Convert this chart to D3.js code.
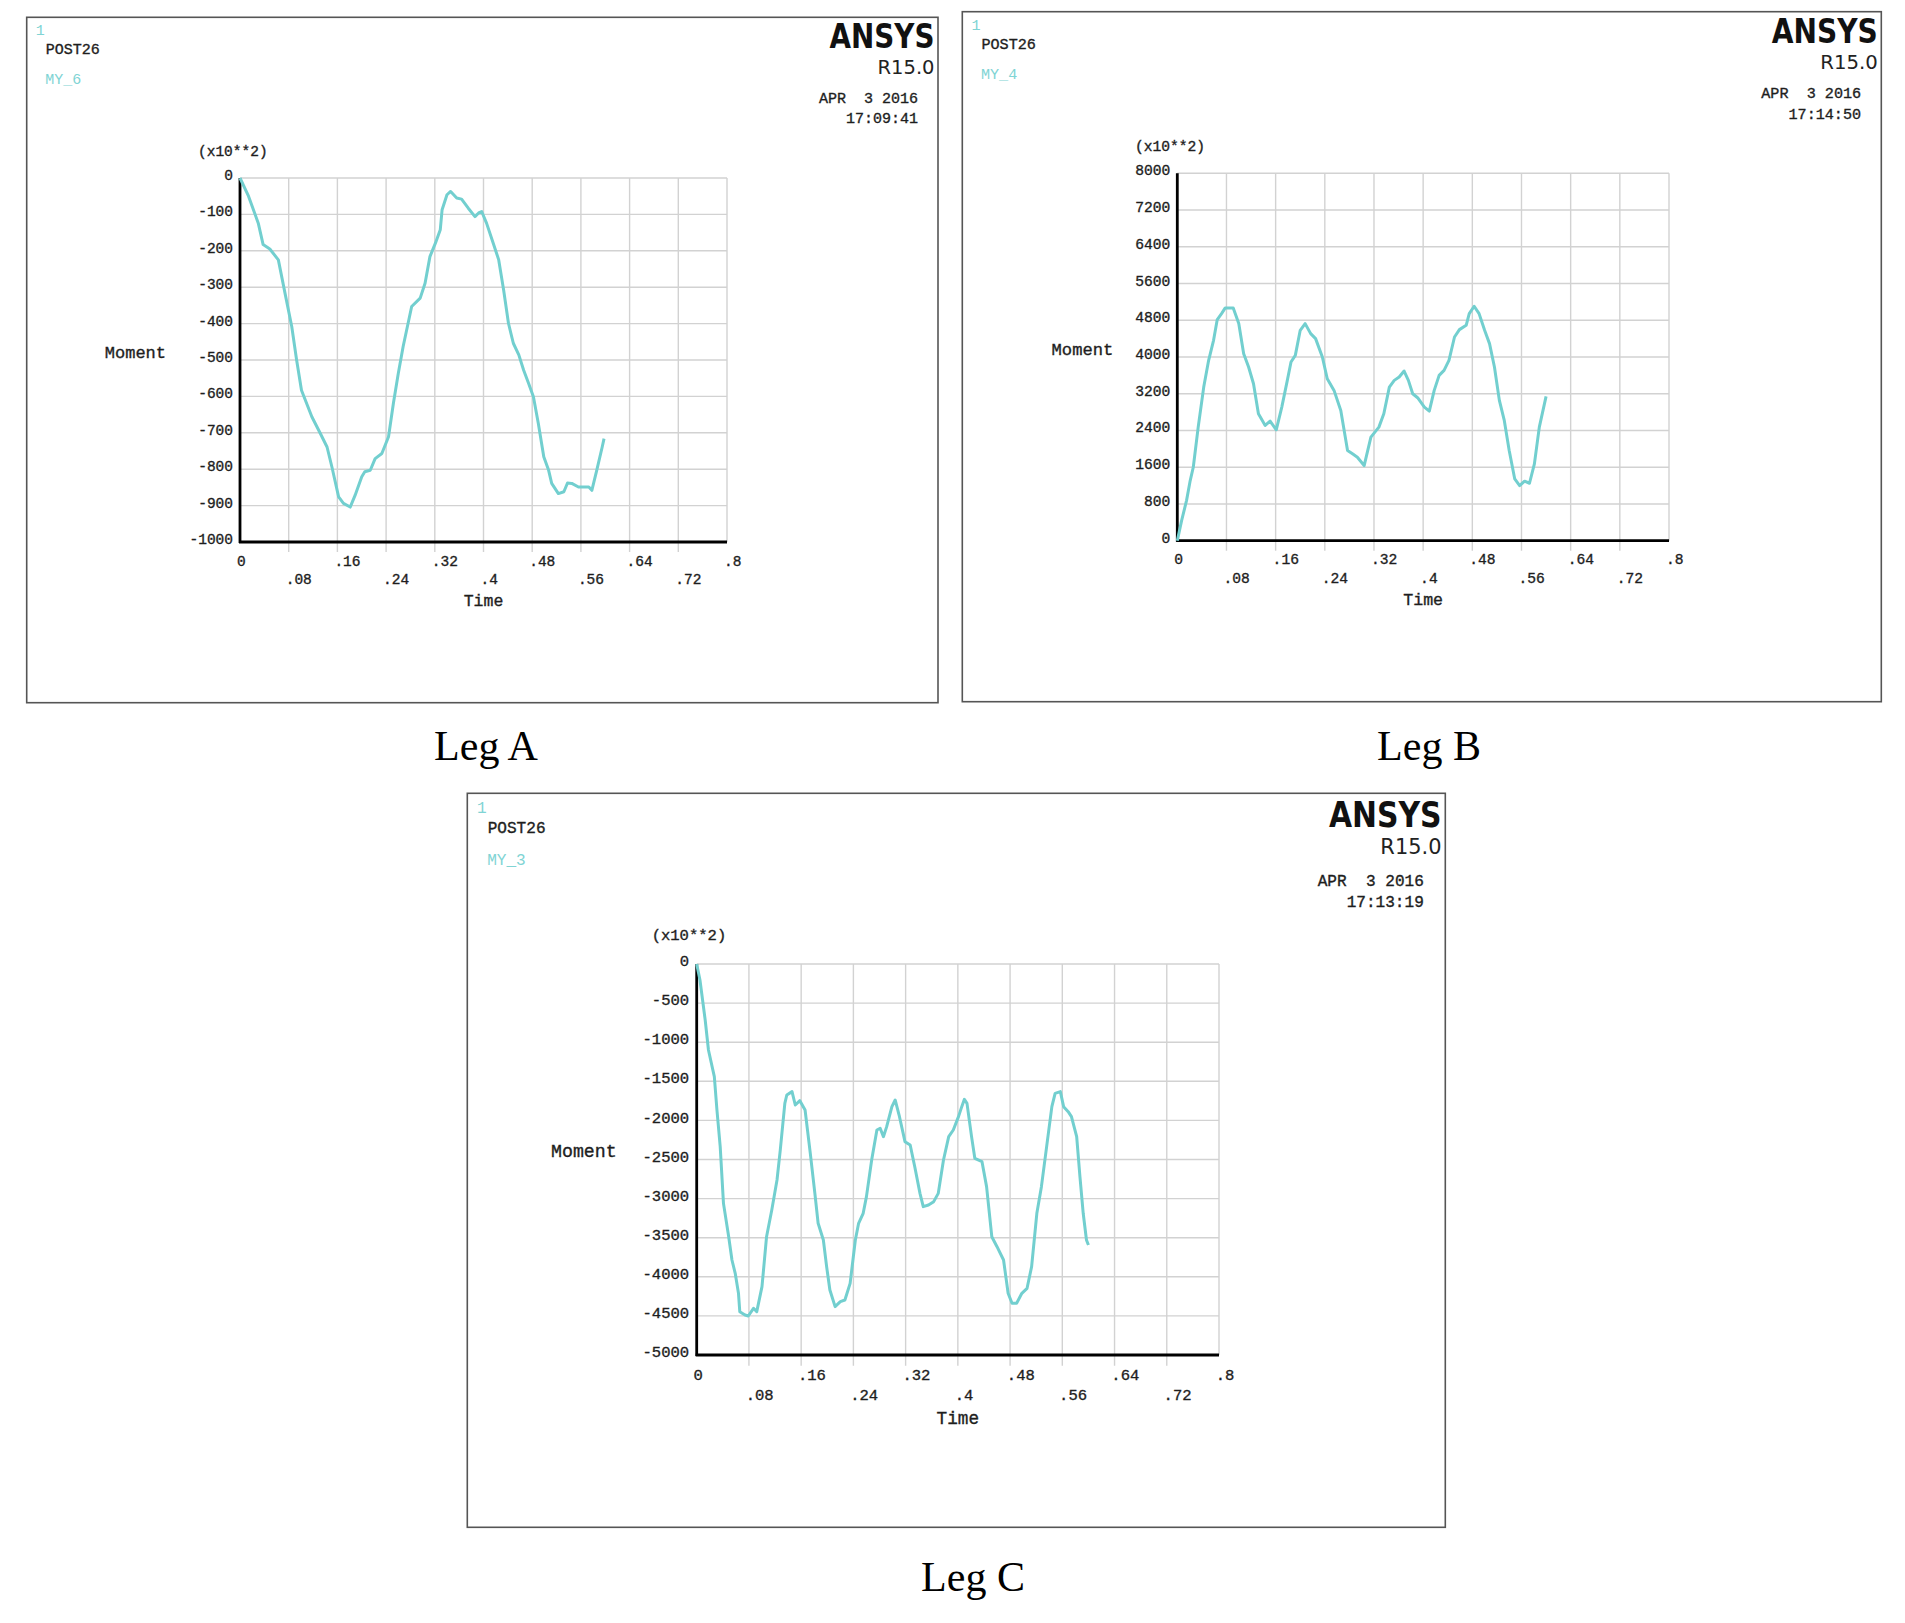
<!DOCTYPE html>
<html>
<head>
<meta charset="UTF-8">
<title>ANSYS POST26 - Leg moments</title>
<script src="https://d3js.org/d3.v7.min.js"></script>
<style>
  body { margin: 0; background: #fff; }
  text { font-family: "Liberation Mono", "DejaVu Sans Mono", monospace; }
  .mono { fill: #1e1e1e; stroke: #1e1e1e; stroke-width: 0.35px; }
</style>
</head>
<body>
<div id="chart"></div>
<script>

// shared time axis (s)
var timeTicks  = [0, .08, .16, .24, .32, .4, .48, .56, .64, .72, .8];
var timeLabels = ["0", ".08", ".16", ".24", ".32", ".4", ".48", ".56", ".64", ".72", ".8"];

// Leg A  - MY_6, moment in x10**2
var momentTicksA = [0, -100, -200, -300, -400, -500, -600, -700, -800, -900, -1000];
var timeA = [0, .014, .030, .038, .049, .063, .074, .085, .093, .101, .118, .132, .143, .151, .162, .170,
  .181, .189, .200, .205, .214, .222, .233, .244, .252, .260, .268, .282, .296, .304, .312, .321, .329,
  .332, .340, .346, .356, .364, .375, .386, .392, .397, .405, .416, .425, .433, .441, .449, .458, .466,
  .474, .482, .490, .499, .507, .512, .523, .532, .538, .545, .556, .567, .573, .578, .586, .595, .598];
var momentA = [0, -50, -124, -183, -195, -225, -317, -408, -500, -583, -656, -702, -739, -794, -876, -894,
  -904, -872, -821, -807, -803, -771, -757, -711, -619, -537, -463, -353, -330, -289, -216, -179, -142,
  -87, -46, -37, -55, -58, -83, -106, -96, -92, -124, -179, -225, -307, -399, -454, -486, -528,
  -564, -601, -674, -766, -803, -839, -867, -862, -838, -839, -849, -849, -849, -858, -803, -739, -716];

// Leg B  - MY_4
var momentTicksB = [0, 800, 1600, 2400, 3200, 4000, 4800, 5600, 6400, 7200, 8000];
var timeB = [0, .007, .015, .021, .026, .034, .043, .051, .059, .065, .072, .078, .091, .100, .108,
  .116, .124, .132, .143, .151, .161, .170, .179, .185, .192, .200, .208, .217, .225, .236, .244, .255,
  .266, .277, .285, .293, .304, .315, .328, .336, .345, .353, .361, .369, .376, .383, .391, .402, .410,
  .418, .426, .434, .442, .451, .459, .470, .475, .483, .491, .500, .508, .516, .524, .532, .540, .549,
  .557, .565, .573, .581, .589, .600];
var momentB = [0, 436, 873, 1309, 1600, 2473, 3345, 3927, 4364, 4815, 4945, 5069, 5069, 4727, 4073,
  3782, 3418, 2764, 2509, 2604, 2415, 2909, 3491, 3891, 4036, 4582, 4727, 4509, 4400, 4000, 3527, 3273,
  2836, 1964, 1891, 1818, 1636, 2255, 2473, 2764, 3345, 3491, 3564, 3695, 3491, 3200, 3113, 2909, 2822,
  3273, 3600, 3709, 3927, 4436, 4596, 4691, 4945, 5105, 4945, 4582, 4291, 3782, 3055, 2618, 1964, 1345,
  1200, 1295, 1251, 1673, 2473, 3142];

// Leg C  - MY_3
var momentTicksC = [0, -500, -1000, -1500, -2000, -2500, -3000, -3500, -4000, -4500, -5000];
var timeC = [0, .005, .013, .018, .027, .031, .036, .041, .049, .054, .059, .064, .066, .074, .079,
  .087, .092, .100, .107, .115, .123, .128, .135, .138, .146, .151, .158, .166, .174, .181, .186, .194,
  .199, .204, .212, .220, .227, .235, .243, .248, .255, .260, .268, .276, .281, .286, .291, .299, .304,
  .310, .319, .327, .334, .342, .347, .355, .363, .370, .378, .386, .393, .401, .406, .410, .414, .421,
  .426, .437, .444, .452, .460, .470, .477, .483, .490, .498, .506, .513, .521, .528, .536, .544, .549,
  .557, .562, .569, .574, .582, .587, .592, .597, .600];
var momentC = [0, -205, -716, -1100, -1441, -1867, -2336, -3061, -3487, -3785, -3956, -4211, -4446, -4488,
  -4501, -4403, -4446, -4126, -3487, -3146, -2762, -2379, -1782, -1675, -1632, -1803, -1748, -1867, -2421,
  -2933, -3316, -3529, -3870, -4169, -4382, -4318, -4297, -4084, -3529, -3316, -3188, -2975, -2506, -2123,
  -2101, -2208, -2080, -1824, -1739, -1931, -2272, -2315, -2592, -2933, -3103, -3082, -3039, -2933, -2506,
  -2208, -2123, -1952, -1824, -1731, -1782, -2208, -2485, -2528, -2847, -3487, -3615, -3785, -4211, -4339,
  -4339, -4211, -4147, -3870, -3188, -2847, -2336, -1824, -1654, -1632, -1824, -1888, -1952, -2208, -2720,
  -3188, -3529, -3594];

var W = 1905, H = 1623;
var curveColor = "#72cfcf", labelCyan = "#80d4d4";

var svg = d3.select("#chart").append("svg")
    .attr("width", W)
    .attr("height", H);

function drawPanel(p) {
  var k = p.k;
  var fx = p.frame[0], fy = p.frame[1], fw = p.frame[2], fh = p.frame[3];
  var px = p.plot[0], py = p.plot[1], pw = p.plot[2], ph = p.plot[3];
  var g = svg.append("g");

  g.append("rect")
    .attr("x", fx).attr("y", fy).attr("width", fw).attr("height", fh)
    .attr("fill", "#fff").attr("stroke", "#555").attr("stroke-width", 1.6);

  var x = d3.scaleLinear().domain([0, 0.8]).range([px, px + pw]);
  var y = d3.scaleLinear().domain(p.domain).range([py + ph, py]);

  // grid
  g.selectAll(".vg").data(timeTicks).enter().append("line")
    .attr("x1", function(d) { return x(d); }).attr("x2", function(d) { return x(d); })
    .attr("y1", py)
    .attr("y2", function(d, i) { return (i > 0 && i < timeTicks.length - 1) ? py + ph + 10 * k : py + ph; })
    .attr("stroke", "#d2d2d2").attr("stroke-width", 1.4);
  g.selectAll(".hg").data(p.ticks).enter().append("line")
    .attr("x1", px).attr("x2", px + pw)
    .attr("y1", function(d) { return y(d); }).attr("y2", function(d) { return y(d); })
    .attr("stroke", "#d2d2d2").attr("stroke-width", 1.4);

  // axes
  g.append("line").attr("x1", px).attr("x2", px).attr("y1", py).attr("y2", py + ph + 1)
    .attr("stroke", "#000").attr("stroke-width", 2.8);
  g.append("line").attr("x1", px - 1).attr("x2", px + pw).attr("y1", py + ph).attr("y2", py + ph)
    .attr("stroke", "#000").attr("stroke-width", 2.8);

  // curve
  var line = d3.line()
    .x(function(d) { return x(d[0]); })
    .y(function(d) { return y(d[1]); });
  g.append("path")
    .datum(d3.zip(p.time, p.moment))
    .attr("d", line)
    .attr("fill", "none")
    .attr("stroke", curveColor)
    .attr("stroke-width", 3)
    .attr("stroke-linejoin", "round");

  var fs = 14.5 * k;

  // y tick labels
  g.selectAll(".yl").data(p.ticks).enter().append("text")
    .attr("class", "mono")
    .attr("x", px - 7 * k)
    .attr("y", function(d) { return y(d) + 2 * k; })
    .attr("text-anchor", "end")
    .attr("font-size", fs)
    .text(function(d) { return d; });

  // x tick labels, two staggered rows
  g.selectAll(".xl").data(timeTicks).enter().append("text")
    .attr("class", "mono")
    .attr("x", function(d) { return x(d) - 3 * k; })
    .attr("y", function(d, i) { return py + ph + (i % 2 == 0 ? 23.5 : 42) * k; })
    .attr("font-size", fs)
    .text(function(d, i) { return timeLabels[i]; });

  g.append("text").attr("class", "mono")
    .attr("x", px + pw / 2).attr("y", py + ph + 64 * k)
    .attr("text-anchor", "middle")
    .attr("font-size", 16.5 * k)
    .text("Time");

  g.append("text").attr("class", "mono")
    .attr("x", px - p.momentGap).attr("y", py + ph / 2 - 2 * k)
    .attr("text-anchor", "end")
    .attr("font-size", 17 * k)
    .text("Moment");

  g.append("text").attr("class", "mono")
    .attr("x", px - 42 * k).attr("y", py - 22.3 * k)
    .attr("font-size", fs)
    .text("(x10**2)");

  // header block
  g.append("text")
    .attr("x", fx + 9 * k).attr("y", fy + 18 * k)
    .attr("font-size", 15 * k).attr("fill", labelCyan)
    .text("1");
  g.append("text").attr("class", "mono")
    .attr("x", fx + 19 * k).attr("y", fy + 37 * k)
    .attr("font-size", 15 * k)
    .text("POST26");
  g.append("text")
    .attr("x", fx + 18.5 * k).attr("y", fy + 67 * k)
    .attr("font-size", 15 * k).attr("fill", labelCyan)
    .text(p.name);

  g.append("text")
    .attr("x", fx + fw - 3.5 * k).attr("y", fy + 31 * k)
    .attr("text-anchor", "end")
    .style("font-family", "'DejaVu Sans Condensed', 'DejaVu Sans', sans-serif")
    .style("font-stretch", "condensed")
    .attr("font-size", 33 * k).attr("font-weight", "bold").attr("fill", "#111")
    .attr("textLength", 105 * k).attr("lengthAdjust", "spacingAndGlyphs")
    .text("ANSYS");
  g.append("text")
    .attr("x", fx + fw - 3.5 * k).attr("y", fy + 57 * k)
    .attr("text-anchor", "end")
    .style("font-family", "'DejaVu Sans Condensed', 'DejaVu Sans', sans-serif")
    .style("font-stretch", "condensed")
    .attr("font-size", 20 * k).attr("fill", "#222")
    .attr("textLength", 57 * k).attr("lengthAdjust", "spacingAndGlyphs")
    .text("R15.0");

  g.append("text").attr("class", "mono")
    .attr("x", fx + fw - 20 * k).attr("y", fy + 86 * k)
    .attr("text-anchor", "end").style("white-space", "pre")
    .attr("font-size", 15 * k)
    .text("APR  3 2016");
  g.append("text").attr("class", "mono")
    .attr("x", fx + fw - 20 * k).attr("y", fy + 106 * k)
    .attr("text-anchor", "end")
    .attr("font-size", 15 * k)
    .text(p.clock);

  // caption under the frame
  svg.append("text")
    .attr("x", p.caption[0]).attr("y", p.caption[1])
    .attr("text-anchor", "middle")
    .style("font-family", "'Liberation Serif', 'Times New Roman', serif")
    .attr("font-size", 42).attr("fill", "#000")
    .text(p.title);
}

drawPanel({
  name: "MY_6", clock: "17:09:41", title: "Leg A",
  time: timeA, moment: momentA, ticks: momentTicksA, domain: [-1000, 0],
  frame: [26.7, 17.3, 911.3, 685.4], plot: [240, 178, 487, 364], k: 1,
  momentGap: 74, caption: [486, 760]
});
drawPanel({
  name: "MY_4", clock: "17:14:50", title: "Leg B",
  time: timeB, moment: momentB, ticks: momentTicksB, domain: [0, 8000],
  frame: [962.3, 11.7, 919, 690], plot: [1177.3, 173.3, 491.7, 367.4], k: 1.009,
  momentGap: 64, caption: [1429, 760]
});
drawPanel({
  name: "MY_3", clock: "17:13:19", title: "Leg C",
  time: timeC, moment: momentC, ticks: momentTicksC, domain: [-5000, 0],
  frame: [467.3, 793.3, 978, 734], plot: [696.7, 964, 522.3, 391], k: 1.073,
  momentGap: 80, caption: [973, 1591]
});

</script>
</body>
</html>
